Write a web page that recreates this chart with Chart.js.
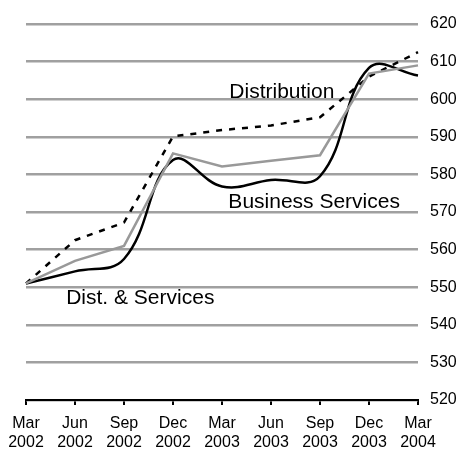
<!DOCTYPE html>
<html>
<head>
<meta charset="utf-8">
<script src="https://cdn.jsdelivr.net/npm/chart.js@4"></script>
<style>
html,body{margin:0;padding:0;background:#fff;}
#wrap{width:458px;height:451px;}
</style>
</head>
<body>
<div id="wrap"><canvas id="c" width="458" height="451"></canvas></div>
<script>
const quarters = [["Mar","2002"],["Jun","2002"],["Sep","2002"],["Dec","2002"],["Mar","2003"],["Jun","2003"],["Sep","2003"],["Dec","2003"],["Mar","2004"]];
const distribution = [551, 562.5, 567.2, 590.1, 591.8, 593, 595.2, 606, 612.5];
const businessServices = [551, 554.2, 557.5, 583.8, 576.8, 578.5, 579.5, 608.3, 606.3];
const distAndServices = [551, 557, 561, 585.6, 582.1, 583.6, 585.1, 606.8, 609];
const yTicks = {min: 520, max: 620, step: 10};
const seriesLabels = [
  {text: "Distribution", xi: 4.15, yv: 601.9},
  {text: "Business Services", xi: 4.13, yv: 572.5},
  {text: "Dist. & Services", xi: 0.82, yv: 547.2}
];
const FONT = "'Liberation Sans', Arial, sans-serif";

const textPlugin = {
  id: 'seriesText',
  afterDatasetsDraw(chart) {
    const ctx = chart.ctx, xs = chart.scales.x, ys = chart.scales.y;
    ctx.save();
    ctx.font = "21px " + FONT;
    ctx.fillStyle = "#000";
    ctx.textAlign = "left";
    ctx.textBaseline = "middle";
    const step = xs.getPixelForValue(1) - xs.getPixelForValue(0);
    seriesLabels.forEach(l => {
      const x = xs.getPixelForValue(0) + l.xi * step;
      const y = ys.getPixelForValue(l.yv);
      ctx.fillText(l.text, x, y);
    });
    ctx.restore();
  }
};

new Chart(document.getElementById('c'), {
  type: 'line',
  data: {
    labels: quarters,
    datasets: [
      {label: 'Dist. & Services', data: distAndServices, borderColor: '#999999', borderWidth: 2.5, tension: 0, pointRadius: 0, fill: false},
      {label: 'Distribution', data: distribution, borderColor: '#000', borderWidth: 2.5, borderDash: [6, 7], tension: 0, pointRadius: 0, fill: false},
      {label: 'Business Services', data: businessServices, borderColor: '#000', borderWidth: 2.5, tension: 0.4, pointRadius: 0, fill: false}
    ]
  },
  options: {
    responsive: false,
    animation: false,
    devicePixelRatio: 1,
    layout: {padding: {left: 26, right: 0, top: 24, bottom: 0}},
    plugins: {legend: {display: false}, tooltip: {enabled: false}},
    scales: {
      x: {
        offset: false,
        afterFit(s) { s.paddingLeft = 0; s.paddingRight = 0; s.height = 51; },
        grid: {display: true, drawOnChartArea: false, drawTicks: true, tickLength: 5, color: '#000', lineWidth: 2},
        border: {display: true, color: '#000', width: 2},
        ticks: {color: '#000', font: {family: FONT, size: 16}, maxRotation: 0, autoSkip: false, padding: 9}
      },
      y: {
        position: 'right',
        min: yTicks.min, max: yTicks.max,
        afterFit(s) { s.paddingTop = 0; s.paddingBottom = 0; s.width = 40; },
        grid: {color: '#a0a0a0', lineWidth: 2.5, drawTicks: true, tickLength: 0},
        border: {display: false},
        ticks: {stepSize: yTicks.step, color: '#000', font: {family: FONT, size: 16}, padding: 12}
      }
    }
  },
  plugins: [textPlugin]
});
</script>
</body>
</html>
